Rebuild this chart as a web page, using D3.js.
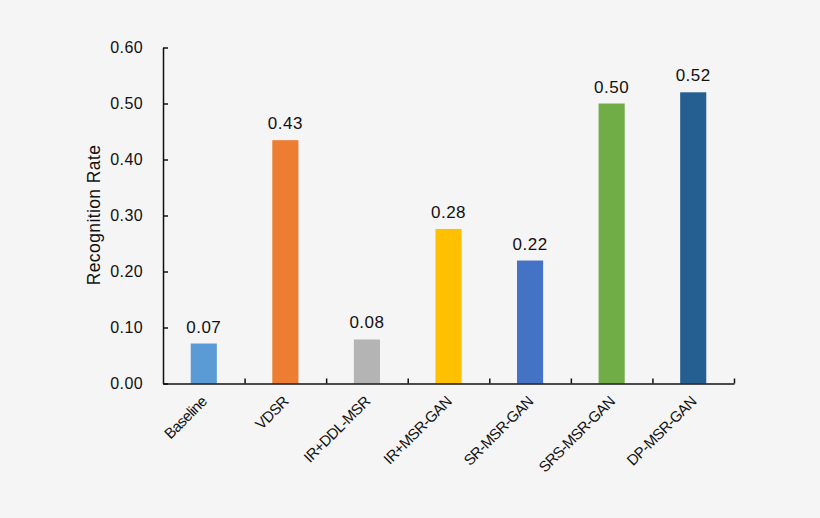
<!DOCTYPE html>
<html>
<head>
<meta charset="utf-8">
<script src="https://cdn.jsdelivr.net/npm/d3@7"></script>
<style>
  body { margin: 0; background: #f5f5f5; }
  svg { display: block; }
  text { font-family: "Liberation Sans", Arial, Helvetica, sans-serif; fill: #111; }
</style>
</head>
<body>
<div id="chart"></div>
<script>
const methods = ['Baseline', 'VDSR', 'IR+DDL-MSR', 'IR+MSR-GAN', 'SR-MSR-GAN', 'SRS-MSR-GAN', 'DP-MSR-GAN'];
const rates = [0.0714, 0.4345, 0.0786, 0.276, 0.2196, 0.50, 0.52];
const barColors = ['#5b9bd5', '#ed7d31', '#b4b4b4', '#ffc000', '#4472c4', '#70ad47', '#255e91'];
const yTicks = [0, 0.1, 0.2, 0.3, 0.4, 0.5, 0.6];

const width = 820, height = 518;
const plotLeft = 163, plotRight = 734, plotTop = 47.5, plotBottom = 383.5;

const svg = d3.select('#chart')
              .append('svg')
              .attr('width', width)
              .attr('height', height);

svg.append('rect')
   .attr('width', width)
   .attr('height', height)
   .attr('fill', '#f5f5f5');

const x = d3.scaleBand()
            .domain(methods)
            .range([plotLeft, plotRight])
            .paddingInner(0.68)
            .paddingOuter(0.34);

const xEdge = d3.scaleLinear()
                .domain([0, methods.length])
                .range([plotLeft, plotRight]);

const y = d3.scaleLinear()
            .domain([0, 0.6])
            .range([plotBottom, plotTop]);

// bars
svg.selectAll('.bar')
   .data(methods)
   .enter()
     .append('rect')
     .attr('class', 'bar')
     .attr('x', d => x(d))
     .attr('y', (d, i) => y(rates[i]))
     .attr('width', x.bandwidth())
     .attr('height', (d, i) => plotBottom - y(rates[i]))
     .attr('fill', (d, i) => barColors[i]);

// value labels
svg.selectAll('.val')
   .data(methods)
   .enter()
     .append('text')
     .attr('class', 'val')
     .attr('x', d => x(d) + x.bandwidth() / 2)
     .attr('y', (d, i) => y(rates[i]) - 11)
     .attr('text-anchor', 'middle')
     .attr('font-size', '17px')
     .attr('letter-spacing', '0.5px')
     .text((d, i) => rates[i].toFixed(2));

// y axis
const yAxis = d3.axisLeft(y)
                .tickValues(yTicks)
                .tickSizeInner(-5)
                .tickSizeOuter(0)
                .tickPadding(20)
                .tickFormat(d3.format('.2f'));

const gy = svg.append('g')
              .attr('transform', 'translate(' + plotLeft + ',0)')
              .call(yAxis);
gy.select('.domain').attr('stroke', '#111').attr('stroke-width', 1.5);
gy.selectAll('.tick line').attr('stroke', '#111').attr('stroke-width', 1.5);
gy.selectAll('.tick text')
  .attr('font-size', '16px')
  .attr('letter-spacing', '0.4px')
  .attr('font-family', '"Liberation Sans", Arial, sans-serif')
  .attr('fill', '#111');

// x axis: ticks between categories, pointing up
const xAxis = d3.axisBottom(xEdge)
                .tickValues(d3.range(1, methods.length + 1))
                .tickSizeInner(-5)
                .tickSizeOuter(0)
                .tickFormat('');

const gx = svg.append('g')
              .attr('transform', 'translate(0,' + plotBottom + ')')
              .call(xAxis);
gx.select('.domain').attr('stroke', '#111').attr('stroke-width', 1.5);
gx.selectAll('.tick line').attr('stroke', '#111').attr('stroke-width', 1.5);

// category labels
svg.selectAll('.cat')
   .data(methods)
   .enter()
     .append('text')
     .attr('class', 'cat')
     .attr('text-anchor', 'end')
     .attr('font-size', '15px')
     .attr('letter-spacing', '-0.6px')
     .attr('transform', d => 'translate(' + (x(d) + x.bandwidth() / 2 + 4) + ',' + (plotBottom + 19) + ') rotate(-45)')
     .text(d => d);

// axis title
svg.append('text')
   .attr('transform', 'rotate(-90)')
   .attr('x', -215)
   .attr('y', 100)
   .attr('text-anchor', 'middle')
   .attr('font-size', '17.5px')
   .attr('letter-spacing', '0.4px')
   .text('Recognition Rate');
</script>
</body>
</html>
